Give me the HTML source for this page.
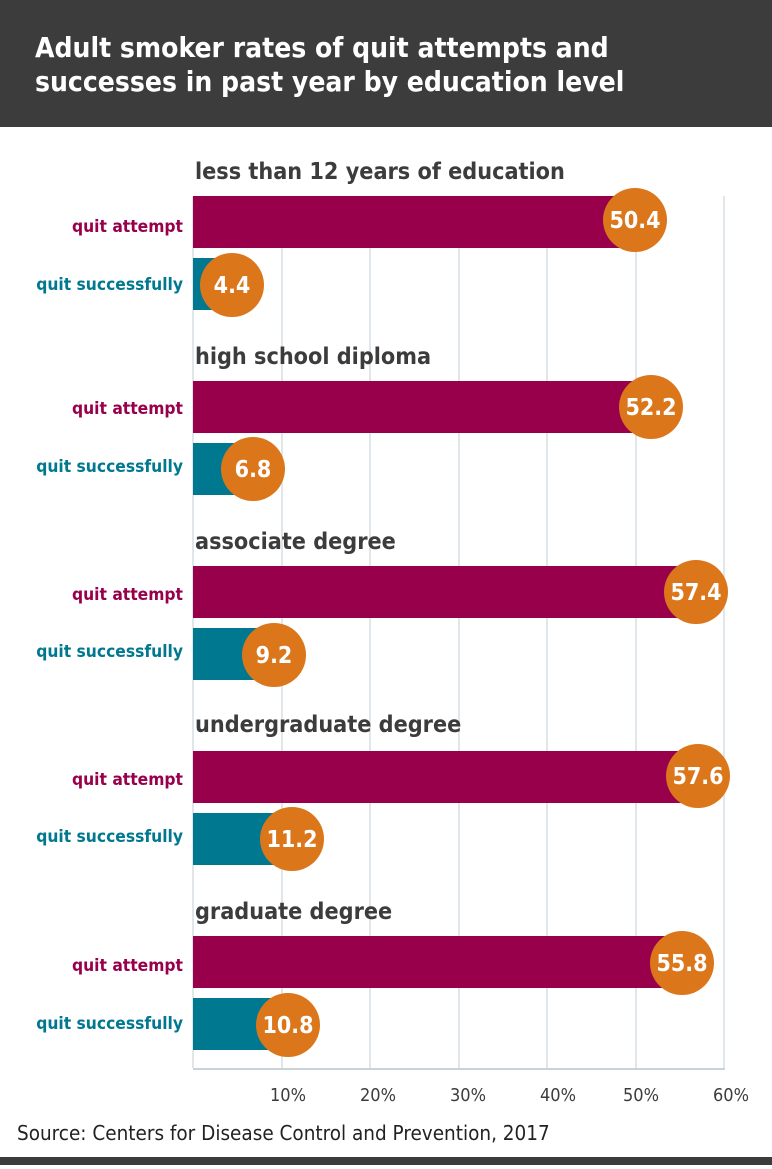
<!DOCTYPE html>
<html><head><meta charset="utf-8"><style>
html,body{margin:0;padding:0;background:#fff}
body{width:772px;height:1165px;overflow:hidden;font-family:"DejaVu Sans Condensed","Liberation Sans",sans-serif}
</style></head><body>
<svg width="772" height="1165" xmlns="http://www.w3.org/2000/svg" font-family="DejaVu Sans Condensed, Liberation Sans, sans-serif">
<rect x="0" y="0" width="772" height="127" fill="#3d3c3c"/>
<text x="35" y="57" fill="#fff" font-size="28" font-weight="bold">Adult smoker rates of quit attempts and</text>
<text x="35" y="91" fill="#fff" font-size="28" font-weight="bold">successes in past year by education level</text>
<g stroke="#d5dde3" stroke-width="1.5">
<line x1="282" y1="196" x2="282" y2="1068"/>
<line x1="370" y1="196" x2="370" y2="1068"/>
<line x1="459" y1="196" x2="459" y2="1068"/>
<line x1="547" y1="196" x2="547" y2="1068"/>
<line x1="636" y1="196" x2="636" y2="1068"/>
<line x1="724" y1="196" x2="724" y2="1068"/>
<line x1="193" y1="196" x2="193" y2="1068"/>
</g>
<line x1="193" y1="1069" x2="725" y2="1069" stroke="#c9d2d9" stroke-width="2"/>
<g font-size="18" fill="#3d3c3c" text-anchor="middle">
<text x="288" y="1101">10%</text><text x="378" y="1101">20%</text><text x="468" y="1101">30%</text><text x="558" y="1101">40%</text><text x="641" y="1101">50%</text><text x="731" y="1101">60%</text>
</g>
<text x="17" y="1140" font-size="20.5" fill="#222">Source: Centers for Disease Control and Prevention, 2017</text>
<rect x="0" y="1157" width="772" height="8" fill="#3d3c3c"/>
<g font-weight="bold">
<g font-size="23.2" fill="#3d3c3c">
<text x="195" y="179">less than 12 years of education</text>
<text x="195" y="364">high school diploma</text>
<text x="195" y="549">associate degree</text>
<text x="195" y="732">undergraduate degree</text>
<text x="195" y="919">graduate degree</text>
</g>
<g font-size="17.3" text-anchor="end">
<text x="183" y="232" fill="#98004b">quit attempt</text><text x="183" y="290" fill="#007890">quit successfully</text>
<text x="183" y="414" fill="#98004b">quit attempt</text><text x="183" y="472" fill="#007890">quit successfully</text>
<text x="183" y="600" fill="#98004b">quit attempt</text><text x="183" y="657" fill="#007890">quit successfully</text>
<text x="183" y="785" fill="#98004b">quit attempt</text><text x="183" y="842" fill="#007890">quit successfully</text>
<text x="183" y="971" fill="#98004b">quit attempt</text><text x="183" y="1029" fill="#007890">quit successfully</text>
</g>
</g>
<g fill="#98004b">
<rect x="193" y="196" width="437" height="52"/>
<rect x="193" y="381" width="452" height="52"/>
<rect x="193" y="566" width="494" height="52"/>
<rect x="193" y="751" width="496" height="52"/>
<rect x="193" y="936" width="480" height="52"/>
</g>
<g fill="#007890">
<rect x="193" y="258" width="32" height="52"/>
<rect x="193" y="443" width="52" height="52"/>
<rect x="193" y="628" width="73" height="52"/>
<rect x="193" y="813" width="91" height="52"/>
<rect x="193" y="998" width="87" height="52"/>
</g>
<g fill="#dc761b">
<circle cx="635" cy="220" r="32"/><circle cx="232" cy="285" r="32"/>
<circle cx="651" cy="407" r="32"/><circle cx="253" cy="469" r="32"/>
<circle cx="696" cy="592" r="32"/><circle cx="274" cy="655" r="32"/>
<circle cx="698" cy="776" r="32"/><circle cx="292" cy="839" r="32"/>
<circle cx="682" cy="963" r="32"/><circle cx="288" cy="1025" r="32"/>
</g>
<g fill="#fff" font-size="23" font-weight="bold" text-anchor="middle">
<text x="635" y="228">50.4</text><text x="232" y="293">4.4</text>
<text x="651" y="415">52.2</text><text x="253" y="477">6.8</text>
<text x="696" y="600">57.4</text><text x="274" y="663">9.2</text>
<text x="698" y="784">57.6</text><text x="292" y="847">11.2</text>
<text x="682" y="971">55.8</text><text x="288" y="1033">10.8</text>
</g>
</svg>
</body></html>
